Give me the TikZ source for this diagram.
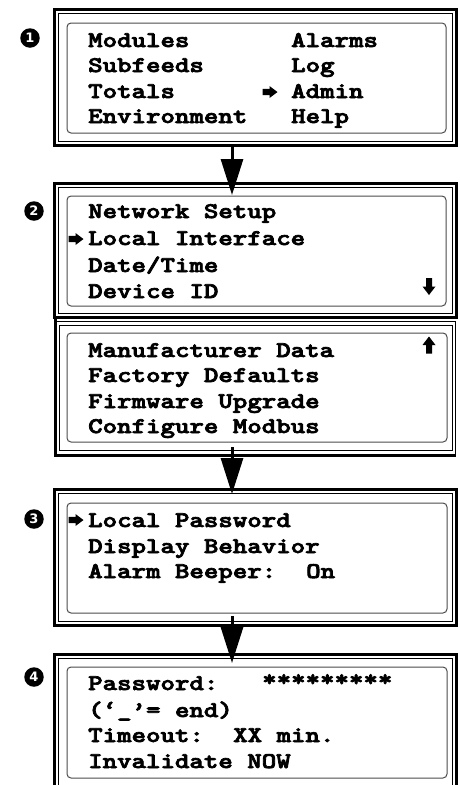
\documentclass[tikz,border=0pt]{standalone}
\usepackage{fontspec}
\newfontfamily\numfont{DejaVu Sans}
\font\lcdfont="[lmmonolt10-bold]:embolden=3" at 22.4pt
\usetikzlibrary{arrows.meta}
\newcommand\lcdtext[1]{\scalebox{1.23}[1]{#1}}
\tikzset{
  lcd/.style={font=\lcdfont, anchor=base west, inner sep=0pt},
  num/.style={circle, fill=black, text=white, inner sep=0pt, minimum size=19.5pt,
    font=\numfont\bfseries\fontsize{13}{13}\selectfont},
  thickframe/.style={line width=3pt},
  thinframe/.style={line width=0.8pt},
  screen/.style={line width=1pt, draw=black!70, rounded corners=4pt},
  flow/.style={line width=3pt, -{Triangle[width=22pt,length=36pt]}},
  pics/ptr/.style={code={\fill (-7.5,-3.1) -- (-0.5,-3.1) -- (-0.5,-6) -- (7.5,0) -- (-0.5,6) -- (-0.5,3.1) -- (-7.5,3.1) -- cycle;}},
  pics/dnarrow/.style={code={\fill (-3,-8.5) -- (3,-8.5) -- (3,0) -- (6.5,0) -- (0,8.5) -- (-6.5,0) -- (-3,0) -- cycle;}},
  pics/uparrow/.style={code={\fill (-3,8.5) -- (3,8.5) -- (3,0) -- (6.5,0) -- (0,-8.5) -- (-6.5,0) -- (-3,0) -- cycle;}},
}
\begin{document}
\begin{tikzpicture}[x=1pt,y=-1pt]
\useasboundingbox (0,0) rectangle (459,785);
\clip (0,0) rectangle (459,785);
\fill[white] (0,0) rectangle (459,785);

% Panel 1
\draw[thickframe] (54.5,9) rectangle (456,145.5);
\draw[thinframe] (58.5,13.5) rectangle (452,141);
\draw[screen] (67,23) rectangle (446,133);
% Panel 2a
\draw[thickframe] (54.5,183.5) rectangle (456,317.5);
\draw[thinframe] (58.5,187.5) rectangle (452,313);
\draw[screen] (67,196) rectangle (446,306);
% Panel 2b
\draw[thickframe] (55.5,319) -- (55.5,455.5) -- (456,455.5);
\draw[thinframe] (55.5,321.5) -- (455.5,321.5) -- (455.5,455.5);
\draw[thinframe] (59,325) rectangle (452,450.5);
\draw[screen] (67,333) rectangle (447,442);
% Panel 3
\draw[thickframe] (54.5,489.5) rectangle (456,625.5);
\draw[thinframe] (58.5,493.5) rectangle (452,621);
\draw[screen] (67,503) rectangle (447,613);
% Panel 4
\draw[thickframe] (54.5,654.5) rectangle (456,800);
\draw[thinframe] (58.5,658.5) rectangle (452,796);
\draw[screen] (67,667) rectangle (447,778);

% Flow arrows
\coordinate (f1a) at (232,144);
\coordinate (f1b) at (232,195);
\coordinate (f2a) at (232,447);
\coordinate (f2b) at (232,494);
\coordinate (f3a) at (232,616);
\coordinate (f3b) at (232,663);
\draw[flow] (f1a) -- (f1b);
\draw[flow] (f2a) -- (f2b);
\draw[flow] (f3a) -- (f3b);

% Step numbers
\node[num] (n1) at (30,38) {1};
\node[num] (n2) at (34,211) {2};
\node[num] (n3) at (34,519) {3};
\node[num] (n4) at (34,677) {4};

% Panel 1 text
\node[lcd] (t11) at (88,47) {\lcdtext{Modules}};
\node[lcd] (t12) at (88,72) {\lcdtext{Subfeeds}};
\node[lcd] (t13) at (88,98) {\lcdtext{Totals}};
\node[lcd] (t14) at (88,123) {\lcdtext{Environment}};
\node[lcd] (t15) at (291,47) {\lcdtext{Alarms}};
\node[lcd] (t16) at (291,72) {\lcdtext{Log}};
\node[lcd] (t17) at (291,98) {\lcdtext{Admin}};
\node[lcd] (t18) at (291,123) {\lcdtext{Help}};
\pic at (270,92) {ptr};

% Panel 2a text
\node[lcd] (t21) at (88,218) {\lcdtext{Network Setup}};
\node[lcd] (t22) at (88,245) {\lcdtext{Local Interface}};
\node[lcd] (t23) at (88,272) {\lcdtext{Date/Time}};
\node[lcd] (t24) at (88,298) {\lcdtext{Device ID}};
\pic at (76,239) {ptr};
\pic at (429,286.5) {dnarrow};

% Panel 2b text
\node[lcd] (t25) at (88,357) {\lcdtext{Manufacturer Data}};
\node[lcd] (t26) at (88,382) {\lcdtext{Factory Defaults}};
\node[lcd] (t27) at (88,408) {\lcdtext{Firmware Upgrade}};
\node[lcd] (t28) at (88,433) {\lcdtext{Configure Modbus}};
\pic at (429,345) {uparrow};

% Panel 3 text
\node[lcd] (t31) at (88,527) {\lcdtext{Local Password}};
\node[lcd] (t32) at (88,553) {\lcdtext{Display Behavior}};
\node[lcd] (t33) at (88,578) {\lcdtext{Alarm Beeper:}};
\node[lcd] (t34) at (306,578) {\lcdtext{On}};
\pic at (76,520) {ptr};

% Panel 4 text
\node[lcd] (t41) at (88,690) {\lcdtext{Password:}};
\node[lcd] (t42) at (262,686) {\lcdtext{*********}};
\node[lcd] (t43) at (88,717) {\lcdtext{(‘\_’= end)}};
\node[lcd] (t44) at (88,742) {\lcdtext{Timeout:}};
\node[lcd] (t45) at (233,742) {\lcdtext{XX min.}};
\node[lcd] (t46) at (88,768) {\lcdtext{Invalidate NOW}};
\end{tikzpicture}
\end{document}
